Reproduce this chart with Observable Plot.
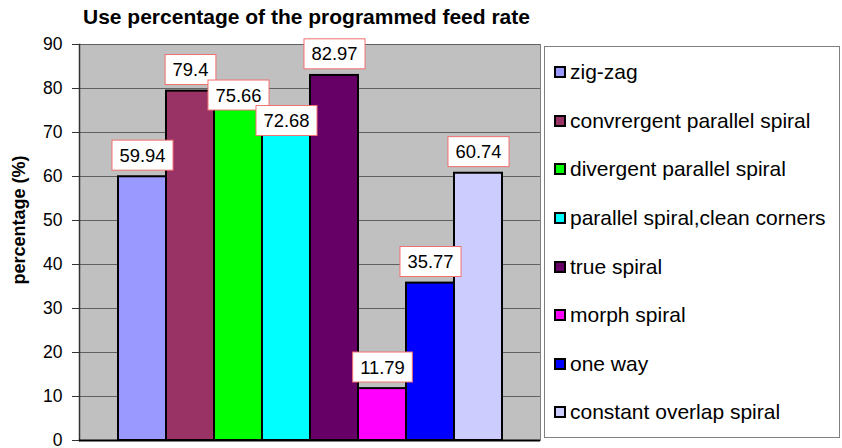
<!DOCTYPE html>
<html>
<head>
<meta charset="utf-8">
<script src="https://cdn.jsdelivr.net/npm/d3@7"></script>
<script src="https://cdn.jsdelivr.net/npm/@observablehq/plot@0.6"></script>
<style>
  html, body { margin: 0; padding: 0; background: white; }
  #wrap { position: relative; width: 842px; height: 448px; font-family: "Liberation Sans", Arial, Helvetica, sans-serif; }
  #title { position: absolute; left: 83px; top: 5px; font-size: 21px; line-height: 24px; font-weight: bold; color: #000; white-space: nowrap; }
  #legend { position: absolute; left: 544px; top: 46px; width: 296px; height: 392px; border: 1px solid #808080; background: white; box-sizing: border-box; padding-top: 1px; }
  .row { height: 48.6px; display: flex; align-items: center; padding-left: 9px; font-size: 21px; color: #000; white-space: nowrap; }
  .sw { width: 8px; height: 8px; border: 2px solid #000; margin-right: 4px; flex: none; }
  #chart { position: absolute; left: 0; top: 0; }
</style>
</head>
<body>
<div id="wrap">
  <div id="chart"></div>
  <div id="title"></div>
  <div id="legend"></div>
</div>
<script>
const titleText = "Use percentage of the programmed feed rate";
const yLabel = "percentage (%)";
const categories = ["zig-zag", "convrergent parallel spiral", "divergent parallel spiral", "parallel spiral,clean corners", "true spiral", "morph spiral", "one way", "constant overlap spiral"];
const values = [59.94, 79.4, 75.66, 72.68, 82.97, 11.79, 35.77, 60.74];
const colors = ["#9999ff", "#993366", "#00ff00", "#00ffff", "#660066", "#ff00ff", "#0000ff", "#ccccff"];
const yTicks = [0, 10, 20, 30, 40, 50, 60, 70, 80, 90];

const data = categories.map((name, i) => ({name, value: values[i]}));

document.getElementById("title").textContent = titleText;

const plot = Plot.plot({
  width: 842,
  height: 448,
  marginLeft: 79,
  marginRight: 302,
  marginTop: 44,
  marginBottom: 8,
  style: {fontFamily: '"Liberation Sans", Arial, Helvetica, sans-serif', background: "transparent"},
  x: {domain: categories, paddingInner: 0, paddingOuter: 0.74, axis: null},
  y: {domain: [0, 90], axis: null},
  color: {domain: categories, range: colors},
  marks: [
    Plot.frame({fill: "#c0c0c0", stroke: "#808080"}),
    Plot.gridY(yTicks, {stroke: "#606060", strokeOpacity: 1}),
    Plot.axisY(yTicks, {tickSize: 7, tickPadding: 10, fontSize: 17.5, label: null, stroke: "#333", color: "#000"}),
    Plot.frame({anchor: "left", stroke: "#333", strokeWidth: 1.5}),
    Plot.barY(data, {x: "name", y: "value", fill: "name", stroke: "#000", strokeWidth: 2}),
    Plot.ruleY([0], {stroke: "#000", strokeWidth: 2}),
    Plot.text([yLabel], {frameAnchor: "left", textAnchor: "middle", dx: -60, dy: -22.5, rotate: -90, fontWeight: "bold", fontSize: 18, fill: "#000"}),
    Plot.text(data, {x: "name", y: "value", text: d => String(d.value), dy: -21, fontSize: 18.4, fill: "#000", className: "vlabel"})
  ]
});

document.getElementById("chart").appendChild(plot);

// draw white label boxes behind each value label, sized from the rendered text
const svgNS = "http://www.w3.org/2000/svg";
const pairs = [];
plot.querySelectorAll(".vlabel text").forEach(t => {
  const b = t.getBBox();
  const r = document.createElementNS(svgNS, "rect");
  const padX = 7.5, padY = 4.5;
  const tr = t.getAttribute("transform");
  if (tr) r.setAttribute("transform", tr);
  r.setAttribute("x", b.x - padX);
  r.setAttribute("y", b.y - padY);
  r.setAttribute("width", b.width + 2 * padX);
  r.setAttribute("height", b.height + 2 * padY);
  r.setAttribute("fill", "white");
  r.setAttribute("stroke", "#f07070");
  r.setAttribute("stroke-width", "1");
  t.parentNode.insertBefore(r, t);
  pairs.push({t, r});
});

// like the spreadsheet: a label box never hides the previous label's text; push it down instead
for (let i = 1; i < pairs.length; i++) {
  const prevText = pairs[i - 1].t.getBoundingClientRect();
  const box = pairs[i].r.getBoundingClientRect();
  const hOverlap = box.left < prevText.right && box.right > prevText.left;
  const vOverlap = box.top < prevText.bottom && box.bottom > prevText.top;
  if (hOverlap && vOverlap) {
    const delta = prevText.bottom - box.top;
    [pairs[i].t, pairs[i].r].forEach(el => {
      const tr = el.getAttribute("transform") || "";
      el.setAttribute("transform", `translate(0,${delta}) ${tr}`.trim());
    });
  }
}

// legend
const legend = document.getElementById("legend");
categories.forEach((name, i) => {
  const row = document.createElement("div");
  row.className = "row";
  const sw = document.createElement("span");
  sw.className = "sw";
  sw.style.background = colors[i];
  const label = document.createElement("span");
  label.textContent = name;
  row.appendChild(sw);
  row.appendChild(label);
  legend.appendChild(row);
});
</script>
</body>
</html>
